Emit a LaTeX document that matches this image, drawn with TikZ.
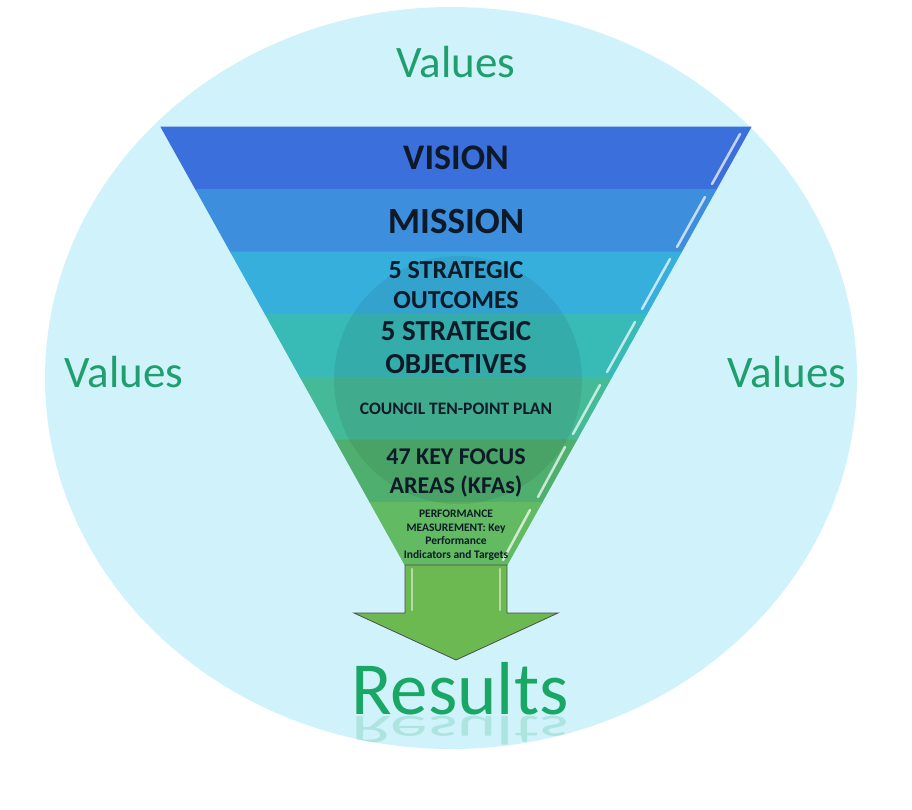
\documentclass[tikz,border=0pt]{standalone}
\usepackage{fontspec}
\setmainfont{Carlito}
\definecolor{valuesky}{HTML}{D0F2FA}
\definecolor{valuegreen}{HTML}{1F9E6E}
\definecolor{resgreen}{HTML}{18A765}
\definecolor{visionblue}{HTML}{3B6FDC}
\definecolor{missionblue}{HTML}{3D8FDD}
\definecolor{outcomecyan}{HTML}{37AFDC}
\definecolor{objteal}{HTML}{38BAB6}
\definecolor{councilgreen}{HTML}{45BA98}
\definecolor{kfagreen}{HTML}{4FAF6E}
\definecolor{perfgreen}{HTML}{62BA63}
\definecolor{arrowgreen}{HTML}{6CB952}
\definecolor{bandtext}{HTML}{0E1A28}
\begin{document}
\begin{tikzpicture}[x=1pt,y=-1pt,
    band/.style={draw=black!70,line width=0.8pt},
    shine/.style={white,opacity=0.7,line width=2.5pt,line cap=round},
    values/.style={text=valuegreen,font=\fontsize{45}{45}\selectfont},
    bandlabel/.style={text=bandtext,align=center,font=\bfseries}]
  \useasboundingbox (0,0) rectangle (912,809);
  \fill[valuesky] (451,378) ellipse [x radius=406, y radius=371];
  % funnel bands
  \fill[band,visionblue]   (161,127) -- (751,127) -- (716.1,189.6) -- (195.9,189.6) -- cycle;
  \fill[band,missionblue]  (195.9,189.6) -- (716.1,189.6) -- (681.3,252.1) -- (230.7,252.1) -- cycle;
  \fill[band,outcomecyan]  (230.7,252.1) -- (681.3,252.1) -- (646.4,314.7) -- (265.6,314.7) -- cycle;
  \fill[band,objteal]      (265.6,314.7) -- (646.4,314.7) -- (611.6,377.3) -- (300.4,377.3) -- cycle;
  \fill[band,councilgreen] (300.4,377.3) -- (611.6,377.3) -- (576.7,439.9) -- (335.3,439.9) -- cycle;
  \fill[band,kfagreen]     (335.3,439.9) -- (576.7,439.9) -- (541.9,502.4) -- (370.1,502.4) -- cycle;
  \fill[band,perfgreen]    (370.1,502.4) -- (541.9,502.4) -- (507,565) -- (405,565) -- cycle;
  % faint emblem behind the middle bands
  \begin{scope}
    \clip (161,127) -- (751,127) -- (507,565) -- (405,565) -- cycle;
    \fill[black,opacity=0.07] (458,380) circle [radius=124];
  \end{scope}
  % bevel on the right edges
  \foreach \ya/\xa/\yb/\xb in {134/740/184/712, 197/705/247/677, 259/670/309/642,
      322/635/372/607, 385/600/434/573, 447/565/497/538, 510/530/560/503}
    \draw[shine] (\xa,\ya) -- (\xb,\yb);
  % arrow
  \draw[draw=black!70,fill=arrowgreen,line width=0.8pt]
    (405,565) -- (507,565) -- (507,613) -- (558,613) -- (456,660) -- (354,613) -- (405,613) -- cycle;
  \draw[shine,opacity=0.5] (412,569) -- (412,610);
  \draw[shine,opacity=0.5] (500,569) -- (500,610);
  % labels
  \node[bandlabel,font=\bfseries\fontsize{36}{36}\selectfont] (vision) at (456,158) {VISION};
  \node[bandlabel,font=\bfseries\fontsize{37}{37}\selectfont] (mission) at (456,221) {MISSION};
  \node[bandlabel,font=\bfseries\fontsize{26}{30}\selectfont] (outcomes) at (456,285) {5 STRATEGIC\\OUTCOMES};
  \node[bandlabel,font=\bfseries\fontsize{29}{33}\selectfont] (objectives) at (456,348) {5 STRATEGIC\\OBJECTIVES};
  \node[bandlabel,font=\bfseries\fontsize{17.5}{18}\selectfont] (council) at (456,409) {COUNCIL TEN-POINT PLAN};
  \node[bandlabel,font=\bfseries\fontsize{24}{29}\selectfont] (kfa) at (456,473) {47 KEY FOCUS\\AREAS (KFAs)};
  \node[bandlabel,font=\bfseries\fontsize{11.5}{13.5}\selectfont] (perf) at (456,535)
    {PERFORMANCE\\MEASUREMENT: Key\\Performance\\Indicators and Targets};
  \node[values,anchor=base] (valtop) at (456,77) {Values};
  \node[values,anchor=base] (valleft) at (124,387) {Values};
  \node[values,anchor=base] (valright) at (787,387) {Values};
  \node[text=resgreen,anchor=base,font=\fontsize{75}{75}\selectfont] (results) at (460,714) {Results};
  \begin{scope}
    \clip (451,378) ellipse [x radius=406, y radius=371];
    \node[text=resgreen,opacity=0.18,anchor=base,yscale=-0.55,font=\fontsize{75}{75}\selectfont] (resmirror) at (460,716) {Results};
  \end{scope}
\end{tikzpicture}
\end{document}
